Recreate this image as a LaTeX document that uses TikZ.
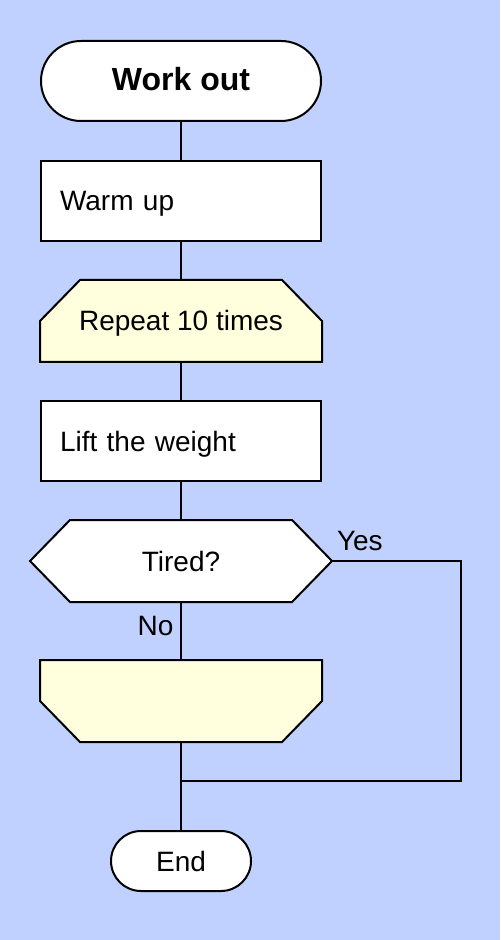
\documentclass[tikz,border=0pt]{standalone}
\usepackage{fontspec}
\setmainfont{Liberation Sans}
\usetikzlibrary{backgrounds}
\usetikzlibrary{positioning}

\definecolor{bgblue}{HTML}{C0D1FF}
\definecolor{loopyellow}{HTML}{FFFFDD}

\tikzset{
    box/.style = {rectangle, minimum width = 140pt, minimum height = 40pt,
        inner sep = 0pt, text height = 10pt, text depth = 0pt},
    terminal/.style = {box, draw, fill = white, rounded corners = 20pt},
    process/.style = {box, draw, fill = white, inner xsep = 9.5pt,
        text width = 121pt, align = left},
    loopbox/.style = {box},
    decision/.style = {box, minimum width = 150pt},
    shapeline/.style = {draw = black, line width = 1pt},
}

\begin{document}
\begin{tikzpicture}[black, line width = 1pt, font = \fontsize{14}{17}\selectfont]

    \useasboundingbox (0,0) rectangle (250pt,-470pt);

    \begin{scope}[on grid, node distance = 60pt]

        \node (work) at (90.5pt,-40.5pt) [terminal, font = \fontsize{16}{19}\selectfont\bfseries] {Work out};
        \node (warm) [process, below = of work] {Warm up};
        \node (rep)  [loopbox, below = of warm] {Repeat 10 times};
        \node (lift) [process, below = of rep] {Lift the weight};
        \node (tired) [decision, below = of lift] {Tired?};
        \node (lend) [loopbox, below = 70pt of tired] {};
        \node (fin)  [terminal, rounded corners = 15pt, minimum width = 70pt,
            minimum height = 30pt, below = 80pt of lend] {End};

        \coordinate (yes1) at (230.5pt,-280.5pt);
        \coordinate (yes2) at (230.5pt,-390.5pt);
        \coordinate (join) at (90.5pt,-390.5pt);

        % outlines of the shaped boxes, behind their text
        \begin{scope}[on background layer]
            \fill[bgblue] (0,0) rectangle (250pt,-470pt);
            \filldraw[shapeline, fill = loopyellow] (rep.south west) -- (rep.west)
                -- ([xshift = 20pt] rep.north west) -- ([xshift = -20pt] rep.north east)
                -- (rep.east) -- (rep.south east) -- cycle;
            \filldraw[shapeline, fill = white] (tired.west) -- ([xshift = 20pt] tired.north west)
                -- ([xshift = -20pt] tired.north east) -- (tired.east)
                -- ([xshift = -20pt] tired.south east) -- ([xshift = 20pt] tired.south west) -- cycle;
            \filldraw[shapeline, fill = loopyellow] (lend.north west) -- (lend.west)
                -- ([xshift = 20pt] lend.south west) -- ([xshift = -20pt] lend.south east)
                -- (lend.east) -- (lend.north east) -- cycle;
        \end{scope}

        \draw (work) -- (warm);
        \draw (warm) -- (rep);
        \draw (rep) -- (lift);
        \draw (lift) -- (tired);
        \draw (tired) -- (lend) node [pos = 0.4, left, text height = 10pt, text depth = 0pt] {No};
        \draw (lend) -- (fin);

        \draw (tired.east) -- (yes1) node [pos = 0, above right, inner xsep = 2pt, inner ysep = 4.5pt] {Yes}
            -- (yes2) -- (join);
    \end{scope}

\end{tikzpicture}
\end{document}
